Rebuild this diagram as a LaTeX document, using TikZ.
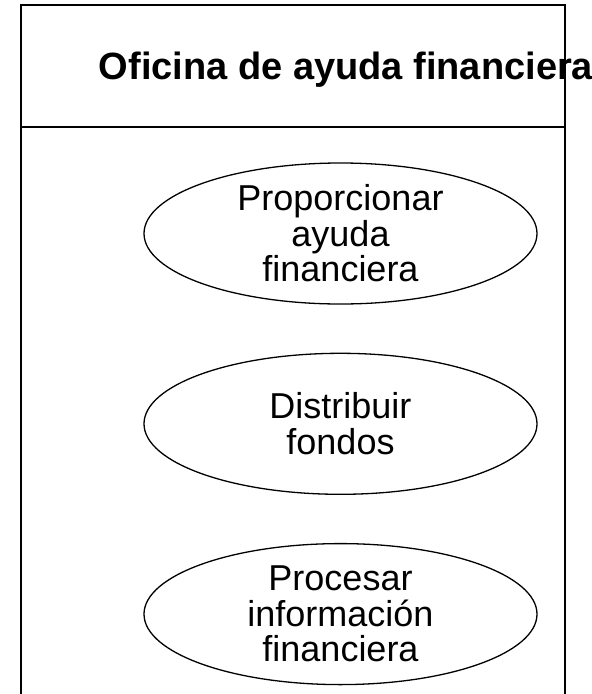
\documentclass[tikz,border=0pt]{standalone}
\usepackage{fontspec}
\setmainfont{Liberation Sans}
\usetikzlibrary{positioning, shapes.geometric}

\begin{document}
\begin{tikzpicture}[x=1pt, y=1pt, usecase/.style={ellipse, draw, line width=1.3pt, minimum width=393pt, minimum height=141pt, inner sep=0pt, align=center, font=\fontsize{36}{35.5}\selectfont}, lane/.style={draw, line width=2pt}, node distance=48pt]
        \useasboundingbox (0,0) rectangle (592,-694);
        \draw[lane] (21,-700) |- (565,-5) -- (565,-700);
        \draw[lane] (21,-127) -- (565,-127);
        \node[font=\fontsize{38}{38}\selectfont\bfseries] (title) at (346,-70) {Oficina de ayuda financiera};
        \node[usecase] (uc1) at (340.5,-233.5) {Proporcionar\\ayuda\\financiera};
        \node[usecase, below=of uc1] (uc2) {Distribuir\\fondos};
        \node[usecase, below=of uc2] (uc3) {Procesar\\información\\financiera};
    \end{tikzpicture}
\end{document}
